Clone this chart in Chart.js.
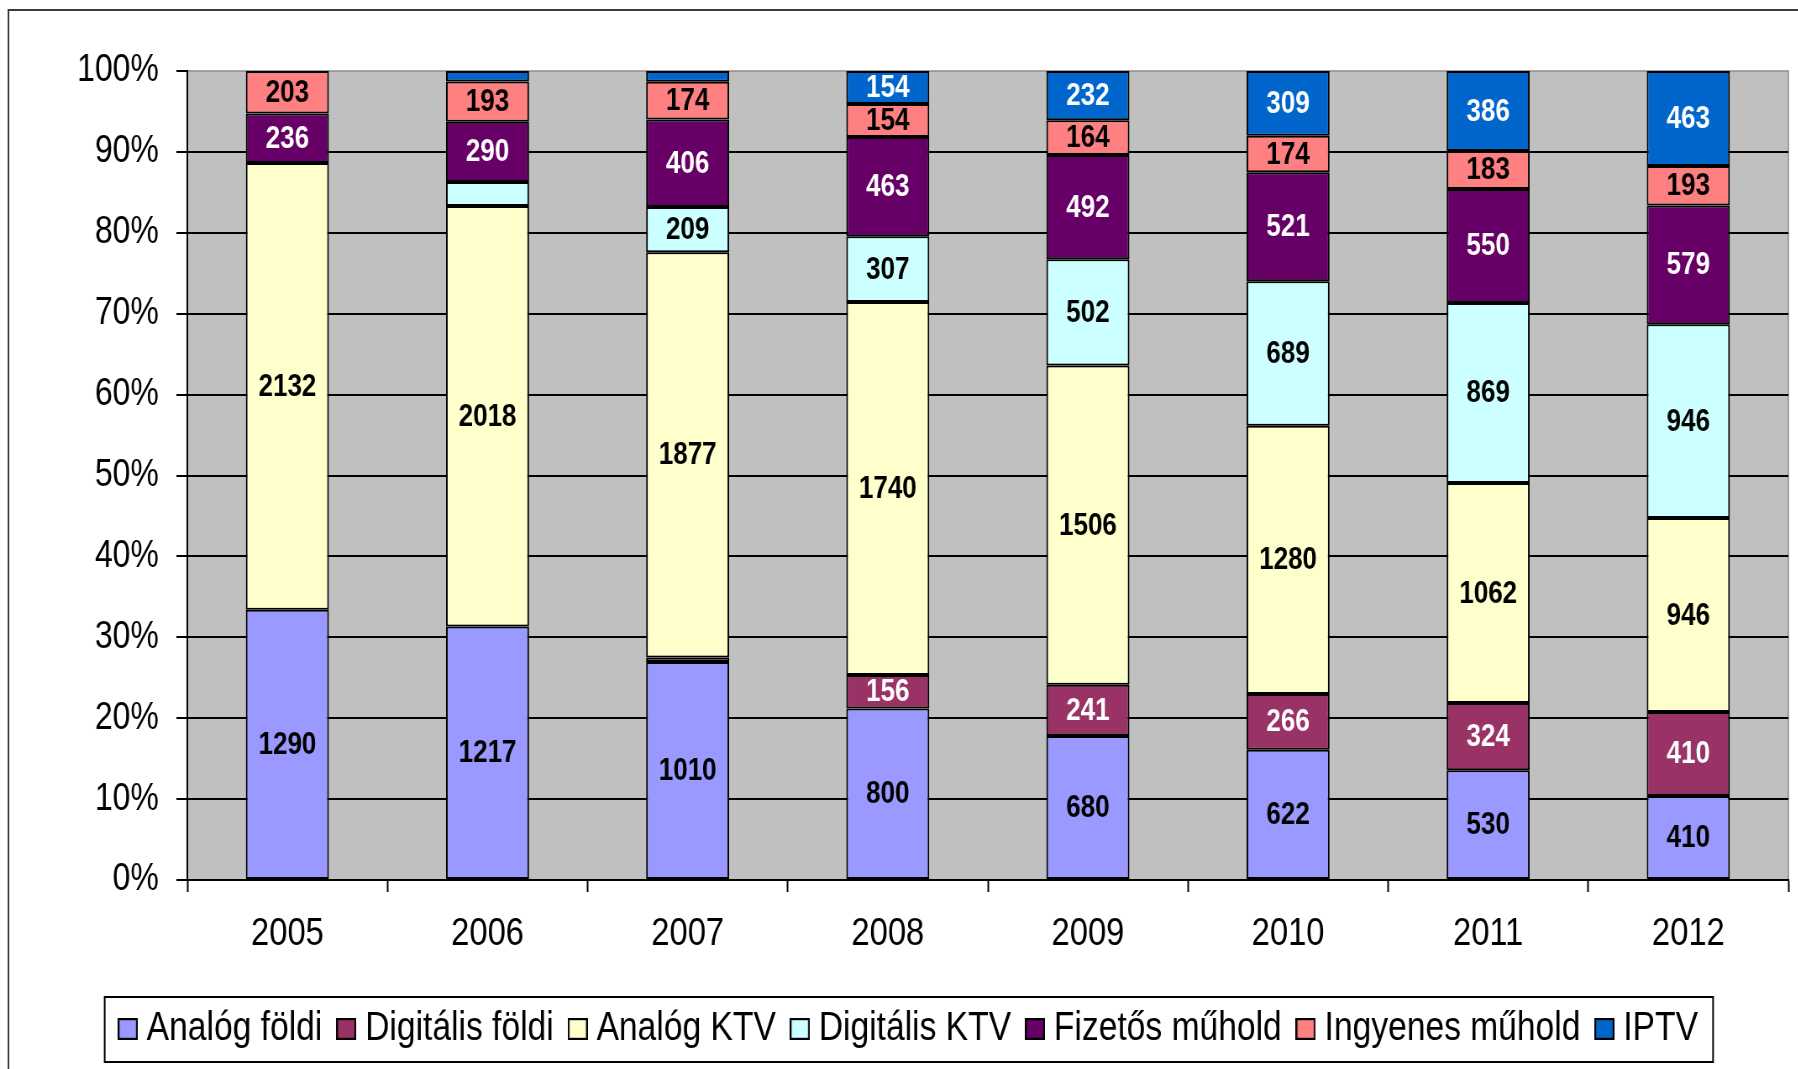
<!DOCTYPE html>
<html>
<head>
<meta charset="utf-8">
<script src="https://cdn.jsdelivr.net/npm/chart.js@4/dist/chart.umd.min.js"></script>
<style>
  html, body { margin: 0; padding: 0; background: #fff; overflow: hidden; }
  #wrap { width: 1798px; height: 1069px; overflow: hidden; position: relative; }
  #c { position: absolute; left: 0; top: 0; transform: scaleX(0.84); transform-origin: 0 0; }
</style>
</head>
<body>
<div id="wrap"><canvas id="c" width="2141" height="1069"></canvas></div>
<script>
const years = ['2005', '2006', '2007', '2008', '2009', '2010', '2011', '2012'];
const seriesNames = ['Analóg földi', 'Digitális földi', 'Analóg KTV', 'Digitális KTV', 'Fizetős műhold', 'Ingyenes műhold', 'IPTV'];
const analogFoldi    = [1290, 1217, 1010, 800, 680, 622, 530, 410];
const digitalisFoldi = [0, 0, 20, 156, 241, 266, 324, 410];
const analogKTV      = [2132, 2018, 1877, 1740, 1506, 1280, 1062, 946];
const digitalisKTV   = [0, 115, 209, 307, 502, 689, 869, 946];
const fizetosMuhold  = [236, 290, 406, 463, 492, 521, 550, 579];
const ingyenesMuhold = [203, 193, 174, 154, 164, 174, 183, 193];
const iptv           = [0, 50, 50, 154, 232, 309, 386, 463];
const yTicks = [0, 10, 20, 30, 40, 50, 60, 70, 80, 90, 100];

const seriesValues = [analogFoldi, digitalisFoldi, analogKTV, digitalisKTV, fizetosMuhold, ingyenesMuhold, iptv];
const fillColors  = ['#9999FF', '#993366', '#FFFFCC', '#CCFFFF', '#660066', '#FF8080', '#0066CC'];
const labelColors = ['#000', '#fff', '#000', '#000', '#fff', '#000', '#fff'];

const totals = years.map((_, j) => seriesValues.reduce((s, arr) => s + arr[j], 0));

const FONT = '"Liberation Sans", Arial, sans-serif';

// legend marker images (square with black border)
const markers = fillColors.map(col => {
  const cv = document.createElement('canvas');
  cv.width = 24; cv.height = 22;
  const g = cv.getContext('2d');
  g.fillStyle = col;
  g.fillRect(0, 0, 24, 22);
  g.strokeStyle = '#000';
  g.lineWidth = 2.2;
  g.strokeRect(1.1, 1.1, 21.8, 19.8);
  return cv;
});

const datasets = seriesNames.map((name, i) => ({
  label: name,
  data: seriesValues[i].map((v, j) => v / totals[j] * 100),
  backgroundColor: fillColors[i],
  borderColor: '#000',
  borderWidth: 2,
  borderSkipped: false,
  barPercentage: 0.415,
  categoryPercentage: 1.0
}));

const bgPlugin = {
  id: 'bgPlugin',
  beforeDraw(chart) {
    const ctx = chart.ctx;
    const a = chart.chartArea;
    ctx.save();
    ctx.fillStyle = '#fff';
    ctx.fillRect(0, 0, chart.width, chart.height);
    ctx.strokeStyle = '#3a3a3a';
    ctx.lineWidth = 2;
    ctx.strokeRect(10, 10, 4000, 3000);
    ctx.fillStyle = '#C0C0C0';
    ctx.fillRect(a.left, a.top, a.right - a.left, a.bottom - a.top);
    ctx.strokeStyle = '#8c8c8c';
    ctx.lineWidth = 1.5;
    ctx.strokeRect(a.left, a.top, a.right - a.left, a.bottom - a.top);
    ctx.restore();
  }
};

const valueLabels = {
  id: 'valueLabels',
  afterDatasetsDraw(chart) {
    const ctx = chart.ctx;
    ctx.save();
    ctx.font = 'bold 31px ' + FONT;
    ctx.textAlign = 'center';
    ctx.textBaseline = 'middle';
    chart.data.datasets.forEach((ds, i) => {
      const meta = chart.getDatasetMeta(i);
      meta.data.forEach((el, j) => {
        const v = seriesValues[i][j];
        if (v < 150) return;
        ctx.fillStyle = labelColors[i];
        ctx.fillText(String(v), el.x, (el.y + el.base) / 2 + 1);
      });
    });
    ctx.restore();
  }
};

const legendFrame = {
  id: 'legendFrame',
  afterDraw(chart) {
    const lg = chart.legend;
    if (!lg || !lg.legendHitBoxes || !lg.legendHitBoxes.length) return;
    const hb = lg.legendHitBoxes;
    let minL = Infinity, maxR = -Infinity, minT = Infinity, maxB = -Infinity;
    hb.forEach(b => {
      minL = Math.min(minL, b.left);
      maxR = Math.max(maxR, b.left + b.width);
      minT = Math.min(minT, b.top);
      maxB = Math.max(maxB, b.top + b.height);
    });
    const cy = (minT + maxB) / 2;
    const ctx = chart.ctx;
    ctx.save();
    ctx.strokeStyle = '#000';
    ctx.lineWidth = 2;
    ctx.strokeRect(minL - 25, cy - 32, (maxR - minL) + 43, 65);
    ctx.restore();
  }
};

new Chart(document.getElementById('c'), {
  type: 'bar',
  data: { labels: years, datasets },
  plugins: [bgPlugin, valueLabels, legendFrame],
  options: {
    responsive: false,
    animation: false,
    devicePixelRatio: 1,
    layout: { padding: { left: 42, right: 12, top: 71, bottom: 10 } },
    plugins: {
      tooltip: { enabled: false },
      legend: {
        position: 'bottom',
        labels: {
          color: '#000',
          font: { family: FONT, size: 40 },
          usePointStyle: true,
          boxWidth: 5,
          boxHeight: 22,
          padding: 26,
          generateLabels(chart) {
            const items = Chart.defaults.plugins.legend.labels.generateLabels(chart);
            items.forEach(it => { it.pointStyle = markers[it.datasetIndex]; });
            return items;
          }
        }
      }
    },
    scales: {
      x: {
        stacked: true,
        afterFit(s) { s.height = 103; },
        grid: {
          offset: true,
          drawOnChartArea: false,
          drawTicks: true,
          tickLength: 12,
          tickColor: '#000',
          tickWidth: 2,
          color: '#000'
        },
        border: { display: true, color: '#000', width: 2 },
        ticks: {
          color: '#000',
          font: { family: FONT, size: 39 },
          padding: 19,
          maxRotation: 0
        }
      },
      y: {
        stacked: true,
        min: 0,
        max: 100,
        afterFit(s) { s.width = 181; },
        afterBuildTicks(s) { s.ticks = yTicks.map(v => ({ value: v })); },
        grid: {
          color: (c) => (c.tick && c.tick.value === 100 ? 'rgba(0,0,0,0)' : '#000'),
          lineWidth: 2,
          drawTicks: true,
          tickLength: 13,
          tickColor: '#000',
          tickWidth: 2
        },
        border: { display: true, color: '#000', width: 2 },
        ticks: {
          color: '#000',
          font: { family: FONT, size: 38 },
          padding: 21,
          callback: (v) => v + '%'
        }
      }
    }
  }
});
</script>
</body>
</html>
